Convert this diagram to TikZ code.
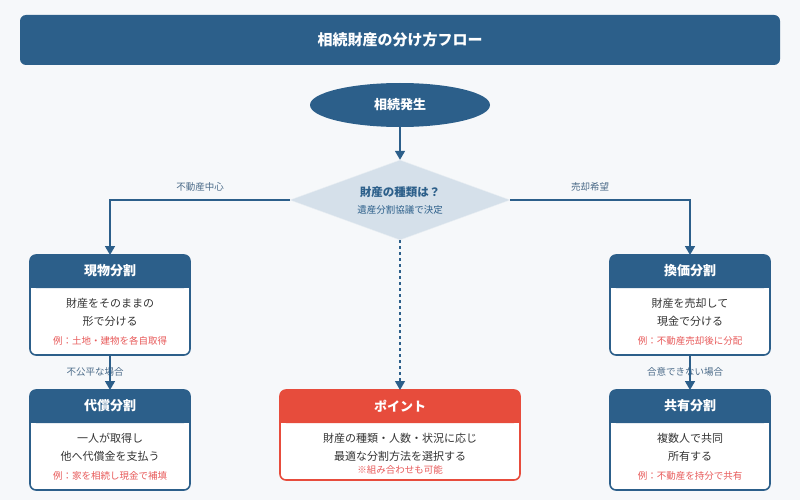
\documentclass[tikz,border=0pt]{standalone}
\usepackage{fontspec}
\setmainfont{Noto Sans CJK JP}
\usetikzlibrary{shapes.geometric,arrows.meta}
\definecolor{navy}{HTML}{2C5F8A}
\definecolor{redb}{HTML}{E74C3C}
\definecolor{redt}{HTML}{E85A5A}
\definecolor{bg}{HTML}{F6F8FA}
\definecolor{dia}{HTML}{D5E0EA}
\definecolor{txt}{HTML}{333333}
\definecolor{lbl}{HTML}{4A6A88}
\begin{document}
\begin{tikzpicture}[x=1pt,y=-1pt,
 hdr/.style={font=\bfseries\fontsize{13}{15}\selectfont,text=white},
 body/.style={font=\fontsize{11}{13}\selectfont,text=txt},
 ex/.style={font=\fontsize{9.5}{11}\selectfont,text=redt},
 lab/.style={font=\fontsize{9.5}{11}\selectfont,text=lbl},
 arr/.style={navy,line width=1.6pt,-{Triangle[length=9pt,width=10pt]}}]
\useasboundingbox[fill=bg] (0,0) rectangle (800,500);
\node[fill=navy,rounded corners=6pt,minimum width=760pt,minimum height=50pt,text=white,font=\bfseries\fontsize{15}{17}\selectfont] (title) at (400,40) {相続財産の分け方フロー};
\node[ellipse,fill=navy,minimum width=180pt,minimum height=44pt,hdr] (start) at (400,105) {相続発生};
\node[diamond,fill=dia,draw=dia!80!navy!30,aspect=2.75,minimum width=220pt,minimum height=80pt,inner sep=0pt] (q) at (400,200) {};
\node[font=\bfseries\fontsize{11.5}{13}\selectfont,text=navy] (qt) at (400,192) {財産の種類は？};
\node[font=\fontsize{9.5}{11}\selectfont,text=navy] (qs) at (400,210) {遺産分割協議で決定};
% boxes
\newcommand{\mybox}[8]{%
 \fill[white,rounded corners=6pt] (#1,#2) rectangle (#1+#3,#2+#4);
 \fill[#5,rounded corners=6pt] (#1,#2) rectangle (#1+#3,#2+33);
 \fill[#5] (#1,#2+20) rectangle (#1+#3,#2+33);
 \draw[#5,line width=1.6pt,rounded corners=6pt] (#1,#2) rectangle (#1+#3,#2+#4);
 \node[hdr] (#6) at (#1+#3/2,#2+16) {#7};
 #8}
\mybox{30}{255}{160}{100}{navy}{gb}{現物分割}{%
 \node[body] (gb1) at (110,303) {財産をそのままの};
 \node[body] (gb2) at (110,321) {形で分ける};
 \node[ex] (gb3) at (110,341) {例：土地・建物を各自取得};}
\mybox{30}{390}{160}{100}{navy}{db}{代償分割}{%
 \node[body] (db1) at (110,438) {一人が取得し};
 \node[body] (db2) at (110,456) {他へ代償金を支払う};
 \node[ex] (db3) at (110,476) {例：家を相続し現金で補填};}
\mybox{610}{255}{160}{100}{navy}{kb}{換価分割}{%
 \node[body] (kb1) at (690,303) {財産を売却して};
 \node[body] (kb2) at (690,321) {現金で分ける};
 \node[ex] (kb3) at (690,341) {例：不動産売却後に分配};}
\mybox{610}{390}{160}{100}{navy}{sb}{共有分割}{%
 \node[body] (sb1) at (690,438) {複数人で共同};
 \node[body] (sb2) at (690,456) {所有する};
 \node[ex] (sb3) at (690,476) {例：不動産を持分で共有};}
\mybox{280}{390}{240}{90}{redb}{pb}{ポイント}{%
 \node[body] (pb1) at (400,438) {財産の種類・人数・状況に応じ};
 \node[body] (pb2) at (400,456) {最適な分割方法を選択する};
 \node[ex] (pb3) at (400,470) {※組み合わせも可能};}
\coordinate (gtop) at (110,255);
\coordinate (ktop) at (690,255);
\coordinate (dtop) at (110,390);
\coordinate (stop) at (690,390);
\coordinate (ptop) at (400,390);
\coordinate (gbot) at (110,355);
\coordinate (kbot) at (690,355);
\coordinate (sbot) at (400,146);
% labels
\node[lab] (l1) at (200,187) {不動産中心};
\node[lab] (l2) at (590,187) {売却希望};
\node[lab] (l3) at (95,372) {不公平な場合};
\node[lab] (l4) at (685,372) {合意できない場合};
% connectors
\draw[arr] (start.south) -- (q.north);
\draw[arr] (q.west) -| (gtop);
\draw[arr] (q.east) -| (ktop);
\draw[arr,dashed,line width=1.2pt] (q.south) -- (ptop);
\draw[arr] (gbot) -- (dtop);
\draw[arr] (kbot) -- (stop);
\end{tikzpicture}
\end{document}
